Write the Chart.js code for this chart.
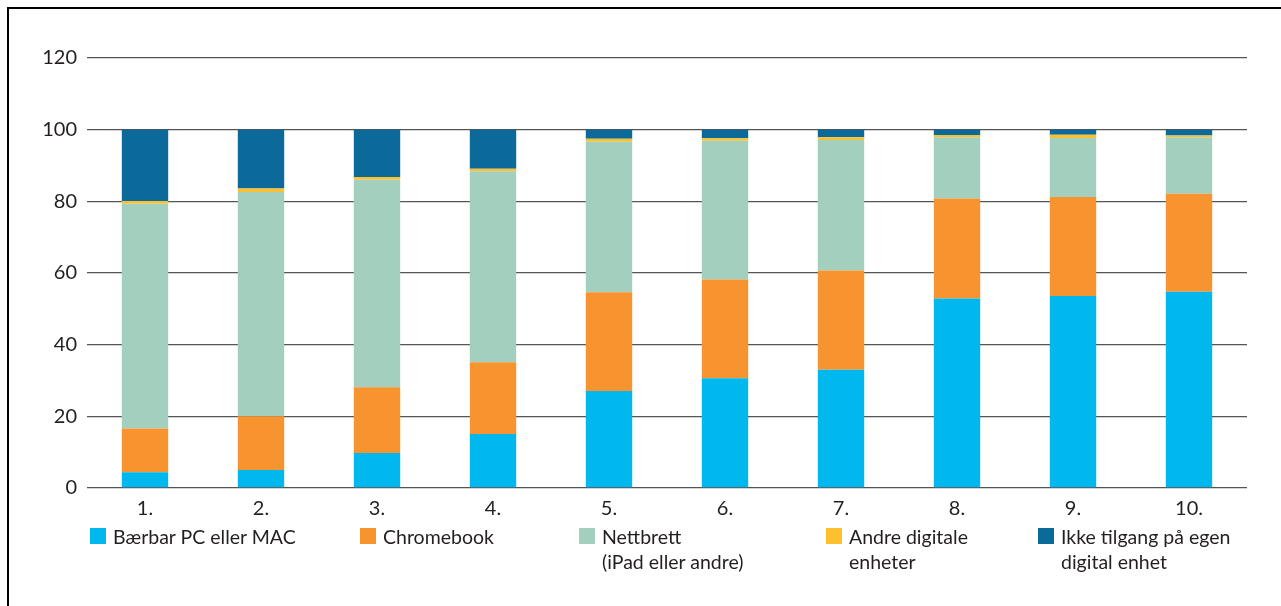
<!DOCTYPE html>
<html>
<head>
<meta charset="utf-8">
<script src="https://cdn.jsdelivr.net/npm/chart.js@4"></script>
<style>
  html, body { margin: 0; padding: 0; background: #fff; }
  body { width: 1281px; height: 606px; position: relative; overflow: hidden; font-family: Lato, sans-serif; color: #231f20; }
  #frame { position: absolute; left: 7px; top: 7px; width: 1400px; height: 700px; border: 2px solid #000; box-sizing: border-box; }
  #wrap { position: absolute; left: 0; top: 0; width: 1281px; height: 606px; }
  .lg { position: absolute; top: 524px; font-size: 19.5px; line-height: 25px; white-space: pre; }
  .lg i { position: absolute; left: 0; top: 4px; width: 16px; height: 16px; }
  .lg span { display: block; margin-left: 23px; }
</style>
</head>
<body>
<div id="frame"></div>
<div id="wrap"><canvas id="chart-devices"></canvas></div>
<div id="legend"></div>
<script>
/* Student access to digital devices, by grade (percent) */

const GRADES = ['1.', '2.', '3.', '4.', '5.', '6.', '7.', '8.', '9.', '10.'];

const LAPTOP     = [4.4, 5.0, 9.8, 15.1, 27.1, 30.6, 33.0, 52.9, 53.6, 54.8];
const CHROMEBOOK = [12.2, 15.0, 18.3, 20.0, 27.5, 27.6, 27.7, 27.9, 27.6, 27.3];
const TABLET     = [62.7, 62.6, 57.9, 53.3, 42.0, 38.7, 36.4, 17.1, 16.5, 15.8];
const OTHER      = [0.8, 1.0, 0.8, 0.7, 0.9, 0.7, 0.8, 0.6, 0.9, 0.5];
const NO_DEVICE  = [19.9, 16.4, 13.2, 10.9, 2.5, 2.4, 2.1, 1.5, 1.4, 1.6];

const Y_TICKS = [0, 20, 40, 60, 80, 100, 120];

const SERIES = [
  { label: 'Bærbar PC eller MAC', data: LAPTOP, color: '#00b8ee' },
  { label: 'Chromebook', data: CHROMEBOOK, color: '#f7942f' },
  { label: 'Nettbrett\n(iPad eller andre)', data: TABLET, color: '#a3cfbe' },
  { label: 'Andre digitale\nenheter', data: OTHER, color: '#fdc02f' },
  { label: 'Ikke tilgang på egen\ndigital enhet', data: NO_DEVICE, color: '#0c6a9b' },
];

// legend item left edges (layout only)
const LEGEND_LEFT = [90, 360, 579, 826, 1038];

const FONT = { family: 'Lato, sans-serif', size: 20 };
Chart.defaults.color = '#231f20';
Chart.defaults.font = FONT;

const chart = new Chart(document.getElementById('chart-devices'), {
  type: 'bar',
  data: {
    labels: GRADES,
    datasets: SERIES.map(s => ({
      label: s.label,
      data: s.data,
      backgroundColor: s.color,
      borderWidth: 0,
      barPercentage: 0.4,
      categoryPercentage: 1,
    })),
  },
  options: {
    responsive: true,
    maintainAspectRatio: false,
    animation: false,
    layout: { padding: { left: 0, right: 34, top: 58, bottom: 0 } },
    plugins: {
      legend: { display: false },
      tooltip: { enabled: false },
    },
    scales: {
      x: {
        stacked: true,
        grid: { display: false, drawTicks: false },
        border: { display: false },
        ticks: { padding: 9, font: FONT },
        afterFit: s => { s.height = 118; },
      },
      y: {
        stacked: true,
        min: 0,
        max: 120,
        afterBuildTicks: s => { s.ticks = Y_TICKS.map(v => ({ value: v })); },
        grid: { color: '#555555', lineWidth: 1.3, drawTicks: false },
        border: { display: false },
        ticks: { padding: 10, font: FONT },
        afterFit: s => { s.width = 87; },
      },
    },
  },
});

/* ── HTML legend built from the datasets ── */
const legend = document.getElementById('legend');
chart.data.datasets.forEach((ds, i) => {
  const item = document.createElement('div');
  item.className = 'lg';
  item.style.left = LEGEND_LEFT[i] + 'px';
  const box = document.createElement('i');
  box.style.background = ds.backgroundColor;
  const txt = document.createElement('span');
  txt.textContent = ds.label;
  item.appendChild(box);
  item.appendChild(txt);
  legend.appendChild(item);
});
</script>
</body>
</html>
